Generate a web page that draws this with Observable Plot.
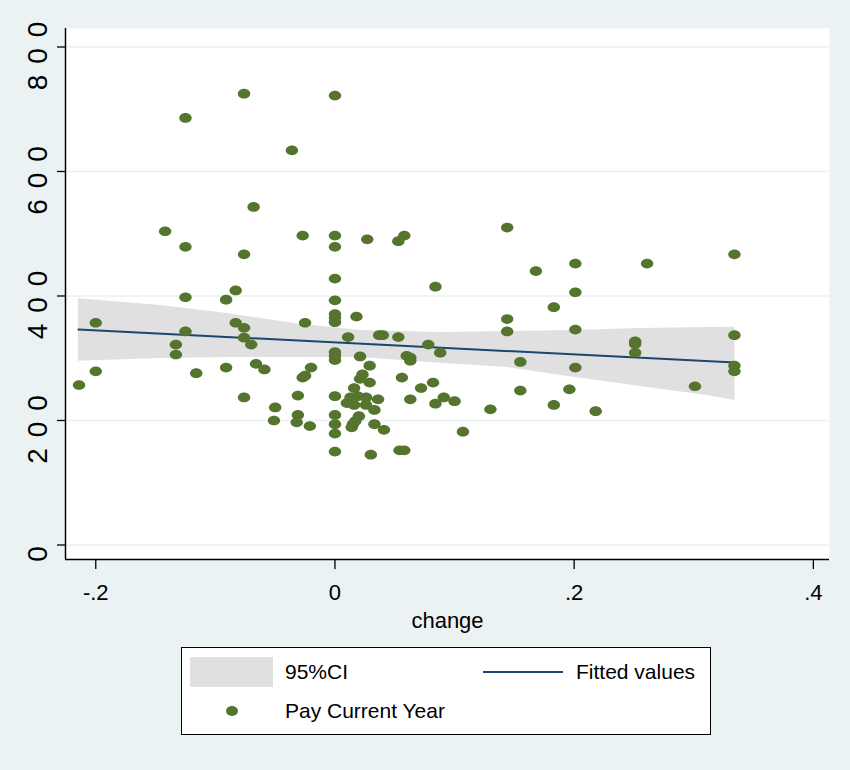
<!DOCTYPE html>
<html>
<head>
<meta charset="utf-8">
<script src="https://cdn.jsdelivr.net/npm/d3@7"></script>
<script src="https://cdn.jsdelivr.net/npm/@observablehq/plot@0.6"></script>
<style>
  html, body { margin: 0; padding: 0; background: #eaf2f3; }
  #wrap { position: relative; width: 850px; height: 770px; background: #eaf2f3; font-family: "Liberation Sans", Arial, sans-serif; color: #000; }
  #chart svg { display: block; }
  #legend { position: absolute; left: 181px; top: 647px; width: 530px; height: 88px; background: #fff; border: 1.5px solid #000; box-sizing: border-box; font-size: 21px; }
  #legend .sw { position: absolute; }
  #legend .lab { position: absolute; line-height: 24px; white-space: nowrap; }
</style>
</head>
<body>
<div id="wrap">
  <div id="chart"></div>
  <div id="legend"></div>
</div>
<script>
// ---- data ----
const changeVals = [
  -0.214, -0.200, -0.200, -0.142, -0.133, -0.133, -0.125, -0.125, -0.125, -0.125,
  -0.116, -0.091, -0.091, -0.083, -0.083, -0.076, -0.076, -0.076, -0.076, -0.076,
  -0.070, -0.068, -0.066, -0.059, -0.051, -0.050, -0.036, -0.031, -0.031, -0.032,
  -0.027, -0.025, -0.027, -0.025, -0.021, -0.020,
  0, 0, 0, 0, 0, 0, 0, 0, 0, 0, 0, 0, 0, 0, 0, 0,
  0.011, 0.010, 0.013, 0.014, 0.015, 0.016, 0.016, 0.017, 0.018, 0.019,
  0.020, 0.021, 0.021, 0.023, 0.026, 0.026, 0.027, 0.029, 0.029, 0.030,
  0.033, 0.033, 0.036, 0.037, 0.040, 0.041, 0.053, 0.053, 0.054, 0.058,
  0.056, 0.058, 0.060, 0.063, 0.063, 0.063, 0.072, 0.078, 0.082, 0.084,
  0.084, 0.088, 0.091, 0.100, 0.107, 0.130, 0.144, 0.144, 0.144, 0.155,
  0.155, 0.168, 0.183, 0.183, 0.196, 0.201, 0.201, 0.201, 0.201, 0.218,
  0.251, 0.251, 0.251, 0.261, 0.301, 0.334, 0.334, 0.334, 0.334
];
const payVals = [
  257, 357, 279, 504, 322, 306, 686, 479, 398, 343,
  276, 394, 285, 409, 357, 725, 467, 349, 333, 237,
  322, 543, 291, 282, 200, 221, 634, 240, 209, 197,
  497, 357, 269, 272, 191, 285,
  722, 497, 479, 428, 393, 371, 365, 358, 310, 304, 297, 239, 209, 194, 179, 150,
  334, 228, 237, 189, 194, 252, 225, 199, 367, 239,
  207, 303, 267, 274, 237, 225, 491, 288, 261, 145,
  217, 194, 234, 337, 337, 185, 488, 334, 152, 152,
  269, 497, 304, 301, 296, 234, 252, 322, 261, 415,
  227, 309, 237, 231, 182, 218, 363, 343, 510, 294,
  248, 440, 382, 225, 250, 452, 406, 346, 285, 215,
  327, 323, 309, 452, 255, 467, 337, 288, 279
];
const fitX = [-0.2145, 0.3345];
const fitY = [346.2, 293.2];
const ciX  = [-0.2145, -0.1459, -0.0899, -0.0347, 0.0213, 0.0882, 0.1442, 0.1994, 0.2554, 0.3114, 0.3345];
const ciHi = [395.5, 384.7, 371.9, 355.8, 344.6, 341.4, 343.0, 344.6, 347.8, 349.4, 349.9];
const ciLo = [295.3, 299.6, 301.2, 301.2, 301.2, 292.0, 285.1, 269.6, 254.6, 240.2, 232.1];
const xTicks = [-0.2, 0, 0.2, 0.4];
const yTicks = [0, 200, 400, 600, 800];
const xTitle = "change";
const legendLabels = ["95%CI", "Fitted values", "Pay Current Year"];

// ---- tables built from the arrays ----
const points = changeVals.map((x, i) => ({x, y: payVals[i]}));
const fit = fitX.map((x, i) => ({x, y: fitY[i]}));
const ci = ciX.map((x, i) => ({x, lo: ciLo[i], hi: ciHi[i]}));

const xDomain = [-0.2253, 0.4135];
const yDomain = [-23.3, 829.7];

const ellipse = {
  draw(ctx, size) {
    const r = Math.sqrt(size / Math.PI);
    const rx = r * 1.15, ry = r * 0.9, k = 0.5523;
    ctx.moveTo(rx, 0);
    ctx.bezierCurveTo(rx, ry * k, rx * k, ry, 0, ry);
    ctx.bezierCurveTo(-rx * k, ry, -rx, ry * k, -rx, 0);
    ctx.bezierCurveTo(-rx, -ry * k, -rx * k, -ry, 0, -ry);
    ctx.bezierCurveTo(rx * k, -ry, rx, -ry * k, rx, 0);
    ctx.closePath();
  }
};

const fmtX = d => d === 0 ? "0" : d3.format(".1f")(d).replace("\u2212", "-").replace("0.", ".");

const chart = Plot.plot({
  width: 850,
  height: 640,
  marginLeft: 65,
  marginRight: 21,
  marginTop: 28,
  marginBottom: 81,
  style: {background: "transparent", fontFamily: "Liberation Sans, Arial, sans-serif", fontSize: "22px", color: "#000"},
  x: {domain: xDomain},
  y: {domain: yDomain},
  marks: [
    Plot.frame({fill: "#ffffff", stroke: null}),
    Plot.gridY(yTicks, {stroke: "#eaf2f3", strokeOpacity: 1, strokeWidth: 1.6}),
    Plot.areaY(ci, {x: "x", y1: "lo", y2: "hi", fill: "#e0e0e0", fillOpacity: 1}),
    Plot.line(fit, {x: "x", y: "y", stroke: "#1a476f", strokeWidth: 2}),
    Plot.dot(points, {x: "x", y: "y", r: 5.4, symbol: ellipse, fill: "#55752f"}),
    Plot.ruleX([xDomain[0]], {stroke: "#000", strokeWidth: 1.5}),
    Plot.ruleY([yDomain[0]], {stroke: "#000", strokeWidth: 1.5}),
    Plot.axisX(xTicks, {tickSize: 10, tickPadding: 15, tickFormat: fmtX, label: null, fontSize: 22, strokeWidth: 1.3}),
    Plot.axisY(yTicks, {tickSize: 8, tickFormat: () => "", label: null, strokeWidth: 1.3}),
    Plot.text(yTicks, {y: d => d, text: d => String(d), frameAnchor: "left", dx: -27, dy: 3.5, rotate: -90, fontSize: 28, lineAnchor: "middle", textAnchor: "middle"}),
    Plot.text([xTitle], {frameAnchor: "bottom", dy: 61, text: d => d, fontSize: 22, lineAnchor: "middle"})
  ]
});

d3.select(chart).selectAll("text").filter(function() {
  return (this.getAttribute("transform") || "").includes("rotate");
}).attr("letter-spacing", "11px");

document.getElementById("chart").appendChild(chart);

// ---- legend ----
const lg = document.getElementById("legend");
lg.innerHTML = `
  <div class="sw" style="left:8px;top:9px;width:83px;height:30px;background:#e0e0e0;"></div>
  <div class="lab" style="left:103px;top:12px;">${legendLabels[0]}</div>
  <div class="sw" style="left:301px;top:23px;width:80px;height:2px;background:#1a476f;"></div>
  <div class="lab" style="left:394px;top:12px;">${legendLabels[1]}</div>
  <div class="sw" style="left:44px;top:58px;width:12px;height:10px;border-radius:50%;background:#55752f;"></div>
  <div class="lab" style="left:103px;top:51px;">${legendLabels[2]}</div>
`;
</script>
</body>
</html>
